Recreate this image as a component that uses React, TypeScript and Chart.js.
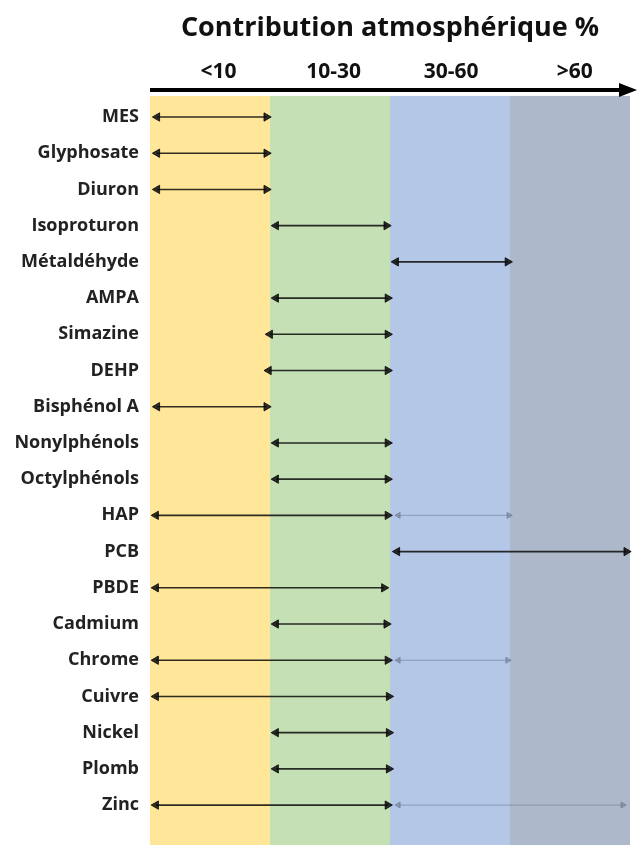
import React, { useEffect, useRef } from "react";
import { Chart, registerables } from "chart.js";

Chart.register(...registerables);

const titleText = "Contribution atmosphérique %";
const bandLabels = ["<10", "10-30", "30-60", ">60"];
const bandLabelPositions = [0.57, 1.53, 2.51, 3.54];
const bandColors = ["#FFE699", "#C5E0B4", "#B4C7E7", "#ADB9CA"];

const substances = [
  "MES",
  "Glyphosate",
  "Diuron",
  "Isoproturon",
  "Métaldéhyde",
  "AMPA",
  "Simazine",
  "DEHP",
  "Bisphénol A",
  "Nonylphénols",
  "Octylphénols",
  "HAP",
  "PCB",
  "PBDE",
  "Cadmium",
  "Chrome",
  "Cuivre",
  "Nickel",
  "Plomb",
  "Zinc",
];

// main (dark) arrow range, in band units (0 = 0%, 1 = 10%, 2 = 30%, 3 = 60%, 4 = max)
const rangeStart = [0.06, 0.06, 0.06, 1.05, 2.05, 1.05, 1.0, 0.99, 0.06, 1.05, 1.05, 0.05, 2.06, 0.05, 1.05, 0.05, 0.05, 1.05, 1.05, 0.05];
const rangeEnd = [0.97, 0.97, 0.97, 1.97, 2.98, 1.98, 1.98, 1.98, 0.97, 1.98, 1.98, 1.98, 3.97, 1.95, 1.97, 1.98, 1.99, 1.99, 1.99, 1.98];

// faint (uncertain) extension arrow
const extStart = [null, null, null, null, null, null, null, null, null, null, null, 2.07, null, null, null, 2.07, null, null, null, 2.07];
const extEnd = [null, null, null, null, null, null, null, null, null, null, null, 2.99, null, null, null, 2.98, null, null, null, 3.94];

const bandsPlugin = {
  id: "bands",
  beforeDatasetsDraw(chart: any) {
    const { ctx, chartArea, scales } = chart;
    const x = scales.x;
    ctx.save();
    bandColors.forEach((c, i) => {
      const x0 = x.getPixelForValue(i);
      const x1 = x.getPixelForValue(i + 1);
      ctx.fillStyle = c;
      ctx.fillRect(x0, chartArea.top - 3, x1 - x0, chart.height - chartArea.top + 3);
    });
    const yA = chartArea.top - 9;
    const xs = x.getPixelForValue(0);
    const xe = x.getPixelForValue(4);
    ctx.strokeStyle = "#000";
    ctx.lineWidth = 4;
    ctx.beginPath();
    ctx.moveTo(xs, yA);
    ctx.lineTo(xe - 6, yA);
    ctx.stroke();
    ctx.fillStyle = "#000";
    ctx.beginPath();
    ctx.moveTo(xe + 7, yA);
    ctx.lineTo(xe - 11, yA - 7);
    ctx.lineTo(xe - 11, yA + 7);
    ctx.closePath();
    ctx.fill();
    ctx.restore();
  },
};

export default function App() {
  const ref = useRef<HTMLCanvasElement | null>(null);

  useEffect(() => {
    if (!ref.current) return;
    const mainColor = "rgba(10,10,10,0.85)";
    const extColor = "rgba(95,110,135,0.5)";
    const datasets: any[] = [];
    substances.forEach((s, i) => {
      datasets.push({
        data: [
          { x: rangeStart[i], y: s },
          { x: rangeEnd[i], y: s },
        ],
        showLine: true,
        borderColor: mainColor,
        borderWidth: 1.6,
        pointStyle: "triangle",
        pointRotation: [-90, 90],
        pointRadius: 4.8,
        pointBackgroundColor: mainColor,
        pointBorderColor: mainColor,
        pointBorderWidth: 1,
        clip: false,
      });
      if (extStart[i] != null && extEnd[i] != null) {
        datasets.push({
          data: [
            { x: extStart[i], y: s },
            { x: extEnd[i], y: s },
          ],
          showLine: true,
          borderColor: extColor,
          borderWidth: 1,
          pointStyle: "triangle",
          pointRotation: [-90, 90],
          pointRadius: 3.5,
          pointBackgroundColor: extColor,
          pointBorderColor: extColor,
          pointBorderWidth: 1,
          clip: false,
        });
      }
    });

    const chart = new Chart(ref.current, {
      type: "scatter",
      data: { datasets },
      plugins: [bandsPlugin],
      options: {
        animation: false,
        responsive: false,
        events: [],
        layout: { padding: { left: 0, right: 11, top: 0, bottom: 21 } },
        plugins: {
          legend: { display: false },
          tooltip: { enabled: false },
          title: {
            display: true,
            text: titleText,
            fullSize: false,
            color: "#111",
            font: { family: "'Open Sans', sans-serif", size: 27, weight: "bold" },
            padding: { top: 12, bottom: 0 },
          },
        },
        scales: {
          x: {
            type: "linear",
            min: 0,
            max: 4,
            display: false,
          },
          xTop: {
            type: "linear",
            position: "top",
            min: 0,
            max: 4,
            grid: { display: false, drawTicks: false },
            border: { display: false },
            afterBuildTicks: (axis: any) => {
              axis.ticks = bandLabelPositions.map((v) => ({ value: v }));
            },
            afterFit: (axis: any) => {
              axis.height = 54.5;
            },
            ticks: {
              autoSkip: false,
              maxRotation: 0,
              padding: 14,
              color: "#111",
              font: { family: "'Open Sans', sans-serif", size: 21, weight: "bold" },
              callback: (_v: any, i: number) => bandLabels[i],
            },
          },
          y: {
            type: "category",
            labels: substances,
            offset: true,
            grid: { display: false, drawTicks: false },
            border: { display: false },
            afterFit: (axis: any) => {
              axis.width = 150;
            },
            ticks: {
              autoSkip: false,
              padding: 11,
              color: "#222",
              font: { family: "'Open Sans', sans-serif", size: 18, weight: "bold" },
            },
          },
        },
      } as any,
    });
    return () => chart.destroy();
  }, []);

  return (
    <div style={{ position: "fixed", left: 0, top: 0, width: 641, height: 845, background: "#fff" }}>
      <canvas ref={ref} width={641} height={845} />
    </div>
  );
}
